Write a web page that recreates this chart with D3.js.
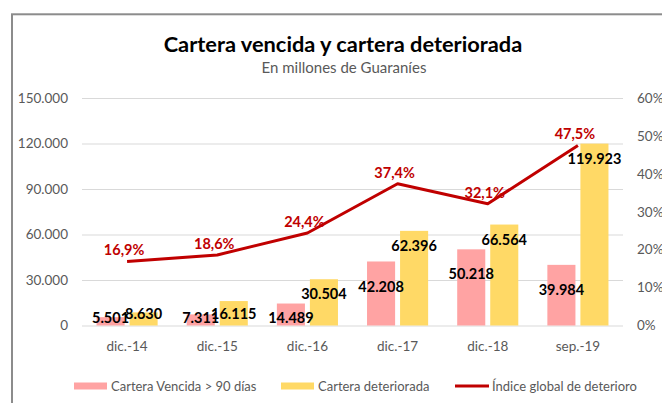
<!DOCTYPE html>
<html>
<head>
<meta charset="utf-8">
<script src="https://cdn.jsdelivr.net/npm/d3@7/dist/d3.min.js"></script>
<style>
	html, body { margin: 0; padding: 0; background: #fff; }
	svg { display: block; font-family: Lato, 'Open Sans', sans-serif; }
</style>
</head>
<body>
<div id="chart"></div>
<script>

var categories = [ 'dic.-14', 'dic.-15', 'dic.-16', 'dic.-17', 'dic.-18', 'sep.-19' ];
var carteraVencida = [ 5501, 7311, 14489, 42208, 50218, 39984 ];
var carteraDeteriorada = [ 8630, 16115, 30504, 62396, 66564, 119923 ];
var indiceDeterioro = [ 0.169, 0.186, 0.244, 0.374, 0.321, 0.475 ];
var leftTicks = [ 0, 30000, 60000, 90000, 120000, 150000 ];
var rightTicks = [ 0, 0.1, 0.2, 0.3, 0.4, 0.5, 0.6 ];
var seriesNames = [ 'Cartera Vencida > 90 días', 'Cartera deteriorada', 'Índice global de deterioro' ];
var titleText = 'Cartera vencida y cartera deteriorada';
var subtitleText = 'En millones de Guaraníes';

var chart = {
	width: 662,
	height: 403,
	plot: { left: 82, right: 623, top: 98, bottom: 325.5 },
	colors: { vencida: '#ffa3a3', deteriorada: '#ffd966', line: '#c00000', grid: '#d9d9d9', text: '#595959' }
};

var locale = d3.formatLocale( { decimal: ',', thousands: '.', grouping: [ 3 ], currency: [ '', '' ] } );
var fmtNum = locale.format( ',' );
var fmtPct = locale.format( '.1%' );
var fmtAxisPct = locale.format( '.0%' );

var rows = categories.map( function ( c, i ) {
	return { cat: c, vencida: carteraVencida[i], deteriorada: carteraDeteriorada[i], indice: indiceDeterioro[i] };
} );

var svg = d3.select( '#chart' ).append( 'svg' )
	.attr( 'width', chart.width )
	.attr( 'height', chart.height );

svg.append( 'rect' ).attr( 'width', chart.width ).attr( 'height', chart.height ).attr( 'fill', '#fff' );

// chart frame, runs off the right and bottom edge
svg.append( 'rect' )
	.attr( 'x', 12 ).attr( 'y', 14.3 )
	.attr( 'width', 700 ).attr( 'height', 450 )
	.attr( 'fill', 'none' )
	.attr( 'stroke', '#8c8c8c' )
	.attr( 'stroke-width', 2 );

svg.append( 'text' )
	.attr( 'x', 343 ).attr( 'y', 52 )
	.attr( 'text-anchor', 'middle' )
	.style( 'font-size', '21.8px' )
	.style( 'font-weight', 'bold' )
	.style( 'fill', '#000' )
	.text( titleText );

svg.append( 'text' )
	.attr( 'x', 344 ).attr( 'y', 73 )
	.attr( 'text-anchor', 'middle' )
	.style( 'font-size', '15px' )
	.style( 'fill', chart.colors.text )
	.text( subtitleText );

var x = d3.scaleBand()
	.domain( categories )
	.range( [ chart.plot.left, chart.plot.right ] );

var xInner = d3.scaleBand()
	.domain( [ 'vencida', 'deteriorada' ] )
	.range( [ 0, x.bandwidth() ] )
	.paddingInner( 0.15 )
	.paddingOuter( 0.44 );

var y = d3.scaleLinear()
	.domain( [ 0, 150000 ] )
	.range( [ chart.plot.bottom, chart.plot.top ] );

var yRight = d3.scaleLinear()
	.domain( [ 0, 0.6 ] )
	.range( [ chart.plot.bottom, chart.plot.top ] );

var plotWidth = chart.plot.right - chart.plot.left;

// left axis + gridlines
var yAxisG = svg.append( 'g' )
	.attr( 'transform', 'translate(' + chart.plot.left + ',0)' )
	.call( d3.axisLeft( y ).tickValues( leftTicks ).tickSize( -plotWidth ).tickPadding( 14 ).tickFormat( fmtNum ) );
yAxisG.select( '.domain' ).remove();
yAxisG.selectAll( 'line' ).attr( 'stroke', chart.colors.grid ).attr( 'stroke-width', 1 );
yAxisG.selectAll( 'text' ).style( 'font-size', '13.5px' ).style( 'font-family', 'Lato, sans-serif' ).attr( 'fill', chart.colors.text );

var yRightG = svg.append( 'g' )
	.attr( 'transform', 'translate(' + chart.plot.right + ',0)' )
	.call( d3.axisRight( yRight ).tickValues( rightTicks ).tickSize( 0 ).tickPadding( 14 ).tickFormat( fmtAxisPct ) );
yRightG.select( '.domain' ).remove();
yRightG.selectAll( 'text' ).style( 'font-size', '13.5px' ).style( 'font-family', 'Lato, sans-serif' ).attr( 'fill', chart.colors.text );

var xAxisG = svg.append( 'g' )
	.attr( 'transform', 'translate(0,' + chart.plot.bottom + ')' )
	.call( d3.axisBottom( x ).tickSize( 0 ).tickPadding( 16 ) );
xAxisG.select( '.domain' ).remove();
xAxisG.selectAll( 'text' ).style( 'font-size', '13.5px' ).style( 'font-family', 'Lato, sans-serif' ).attr( 'fill', chart.colors.text );

// bars
var groups = svg.append( 'g' ).selectAll( 'g' )
	.data( rows )
	.enter().append( 'g' )
	.attr( 'transform', function ( d ) { return 'translate(' + x( d.cat ) + ',0)'; } );

[ 'vencida', 'deteriorada' ].forEach( function ( key ) {
	groups.append( 'rect' )
		.attr( 'x', xInner( key ) )
		.attr( 'width', xInner.bandwidth() )
		.attr( 'y', function ( d ) { return y( d[key] ); } )
		.attr( 'height', function ( d ) { return y( 0 ) - y( d[key] ); } )
		.attr( 'fill', chart.colors[key] );
} );

// bar labels, inside end
[ 'vencida', 'deteriorada' ].forEach( function ( key ) {
	var drop = key === 'vencida' ? 25 : 15;
	var floor = key === 'vencida' ? 8 : 12;
	groups.append( 'text' )
		.attr( 'x', xInner( key ) + xInner.bandwidth() / 2 )
		.attr( 'y', function ( d ) { return Math.min( y( d[key] ) + drop, y( 0 ) - floor ); } )
		.attr( 'dy', '0.35em' )
		.attr( 'text-anchor', 'middle' )
		.style( 'font-size', '14.5px' )
		.style( 'font-weight', 'bold' )
		.style( 'fill', '#000' )
		.text( function ( d ) { return fmtNum( d[key] ); } );
} );

// indice line
var line = d3.line()
	.x( function ( d ) { return x( d.cat ) + x.bandwidth() / 2; } )
	.y( function ( d ) { return yRight( d.indice ); } );

svg.append( 'path' )
	.datum( rows )
	.attr( 'd', line )
	.attr( 'fill', 'none' )
	.attr( 'stroke', chart.colors.line )
	.attr( 'stroke-width', 3 )
	.attr( 'stroke-linejoin', 'round' );

svg.append( 'g' ).selectAll( 'text' )
	.data( rows )
	.enter().append( 'text' )
	.attr( 'x', function ( d ) { return x( d.cat ) + x.bandwidth() / 2 - 3; } )
	.attr( 'y', function ( d ) { return yRight( d.indice ) - 6; } )
	.attr( 'text-anchor', 'middle' )
	.style( 'font-size', '14.5px' )
	.style( 'font-weight', 'bold' )
	.style( 'fill', chart.colors.line )
	.text( function ( d ) { return fmtPct( d.indice ); } );

// legend
var legend = svg.append( 'g' ).attr( 'transform', 'translate(0,386)' );
var legendItems = [
	{ name: seriesNames[0], type: 'rect', color: chart.colors.vencida, x: 74 },
	{ name: seriesNames[1], type: 'rect', color: chart.colors.deteriorada, x: 281 },
	{ name: seriesNames[2], type: 'line', color: chart.colors.line, x: 455 }
];
legendItems.forEach( function ( item ) {
	if ( item.type === 'rect' ) {
		legend.append( 'rect' )
			.attr( 'x', item.x ).attr( 'y', -3.5 )
			.attr( 'width', 33 ).attr( 'height', 7 )
			.attr( 'fill', item.color );
	} else {
		legend.append( 'line' )
			.attr( 'x1', item.x ).attr( 'x2', item.x + 34 )
			.attr( 'stroke', item.color )
			.attr( 'stroke-width', 3 );
	}
	legend.append( 'text' )
		.attr( 'x', item.x + 37 )
		.attr( 'dy', '0.35em' )
		.style( 'font-size', '13px' )
		.style( 'fill', chart.colors.text )
		.text( item.name );
} );

</script>
</body>
</html>
